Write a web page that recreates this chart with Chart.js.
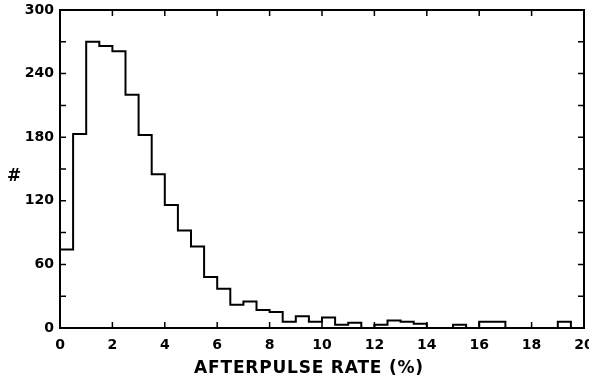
<!DOCTYPE html>
<html>
<head>
<meta charset="utf-8">
<script src="https://cdn.jsdelivr.net/npm/chart.js@4"></script>
<style>
  html, body { margin: 0; padding: 0; background: #fff; }
  #wrap { width: 589px; height: 377px; }
</style>
</head>
<body>
<div id="wrap"><canvas id="afterpulse_chart" width="589" height="377"></canvas></div>
<script>
// bin edges (%) and counts per 0.5 % bin
const binEdges = [0,0.5,1,1.5,2,2.5,3,3.5,4,4.5,5,5.5,6,6.5,7,7.5,8,8.5,9,9.5,
                  10,10.5,11,11.5,12,12.5,13,13.5,14,14.5,15,15.5,16,16.5,17,17.5,18,18.5,19,19.5,20];
const counts = [74,183,270,266,261,220,182,145,116,92,
                77,48,37,22,25,17,15,6,11,6,
                10,3,5,0,3,7,6,4,0,0,
                3,0,6,6,0,0,0,0,6,0];
const xTicks = [0,2,4,6,8,10,12,14,16,18,20];
const yTicks = [0,60,120,180,240,300];
const yMinorTicks = [30,90,150,210,270];
const xTitle = 'AFTERPULSE RATE (%)';
const yTitle = '#';

// histogram outline: each count held from its left edge, last one closed at x=20
const stepPoints = binEdges.map((e, i) => ({ x: e, y: counts[Math.min(i, counts.length - 1)] }));

const FONT = "'DejaVu Sans', sans-serif";

// inward tick marks on all four sides, frame, and the axis titles (upright "#", spaced x title)
const frameTicks = {
  id: 'frameTicks',
  afterDraw(chart) {
    const { ctx, chartArea: a, scales: { x, y } } = chart;
    ctx.save();
    ctx.strokeStyle = '#000';
    ctx.lineWidth = 2;
    ctx.strokeRect(a.left, a.top, a.right - a.left, a.bottom - a.top);
    ctx.lineWidth = 1.5;
    ctx.beginPath();
    xTicks.forEach(v => {
      const px = x.getPixelForValue(v);
      ctx.moveTo(px, a.bottom); ctx.lineTo(px, a.bottom - 6);
      ctx.moveTo(px, a.top); ctx.lineTo(px, a.top + 6);
    });
    yTicks.concat(yMinorTicks).forEach(v => {
      const py = y.getPixelForValue(v);
      ctx.moveTo(a.left, py); ctx.lineTo(a.left + 6, py);
      ctx.moveTo(a.right, py); ctx.lineTo(a.right - 6, py);
    });
    ctx.stroke();

    ctx.fillStyle = '#000';
    ctx.textAlign = 'center';
    ctx.textBaseline = 'alphabetic';
    ctx.font = "bold 17px " + FONT;
    ctx.letterSpacing = '0.8px';
    ctx.fillText(xTitle, (a.left + a.right) / 2 - 13, a.bottom + 45);
    ctx.letterSpacing = '0px';
    ctx.font = "bold 17px " + FONT;
    ctx.textBaseline = 'middle';
    ctx.fillText(yTitle, 14, y.getPixelForValue(143));
    ctx.restore();
  }
};

const ctx = document.getElementById('afterpulse_chart').getContext('2d');
new Chart(ctx, {
  type: 'line',
  data: {
    datasets: [{
      data: stepPoints,
      stepped: 'before',
      borderColor: '#000',
      borderWidth: 2,
      pointRadius: 0,
      fill: false
    }]
  },
  options: {
    responsive: false,
    animation: false,
    layout: { padding: { top: 10, right: 5, left: 0, bottom: 0 } },
    plugins: { legend: { display: false }, tooltip: { enabled: false } },
    scales: {
      x: {
        type: 'linear', min: 0, max: 20,
        afterFit: s => { s.height = 49; s.paddingRight = 0; s.paddingLeft = 0; },
        afterBuildTicks: s => { s.ticks = xTicks.map(v => ({ value: v })); },
        grid: { display: false, drawTicks: false },
        border: { display: false },
        ticks: { color: '#000', padding: 9, font: { family: FONT, size: 14, weight: 'bold' }, maxRotation: 0 },
        title: { display: false }
      },
      y: {
        min: 0, max: 300,
        afterFit: s => { s.width = 60; s.paddingTop = 0; s.paddingBottom = 0; },
        afterBuildTicks: s => { s.ticks = yTicks.map(v => ({ value: v })); },
        grid: { display: false, drawTicks: false },
        border: { display: false },
        ticks: { color: '#000', padding: 6, font: { family: FONT, size: 14, weight: 'bold' } },
        title: { display: false }
      }
    }
  },
  plugins: [frameTicks]
});
</script>
</body>
</html>
